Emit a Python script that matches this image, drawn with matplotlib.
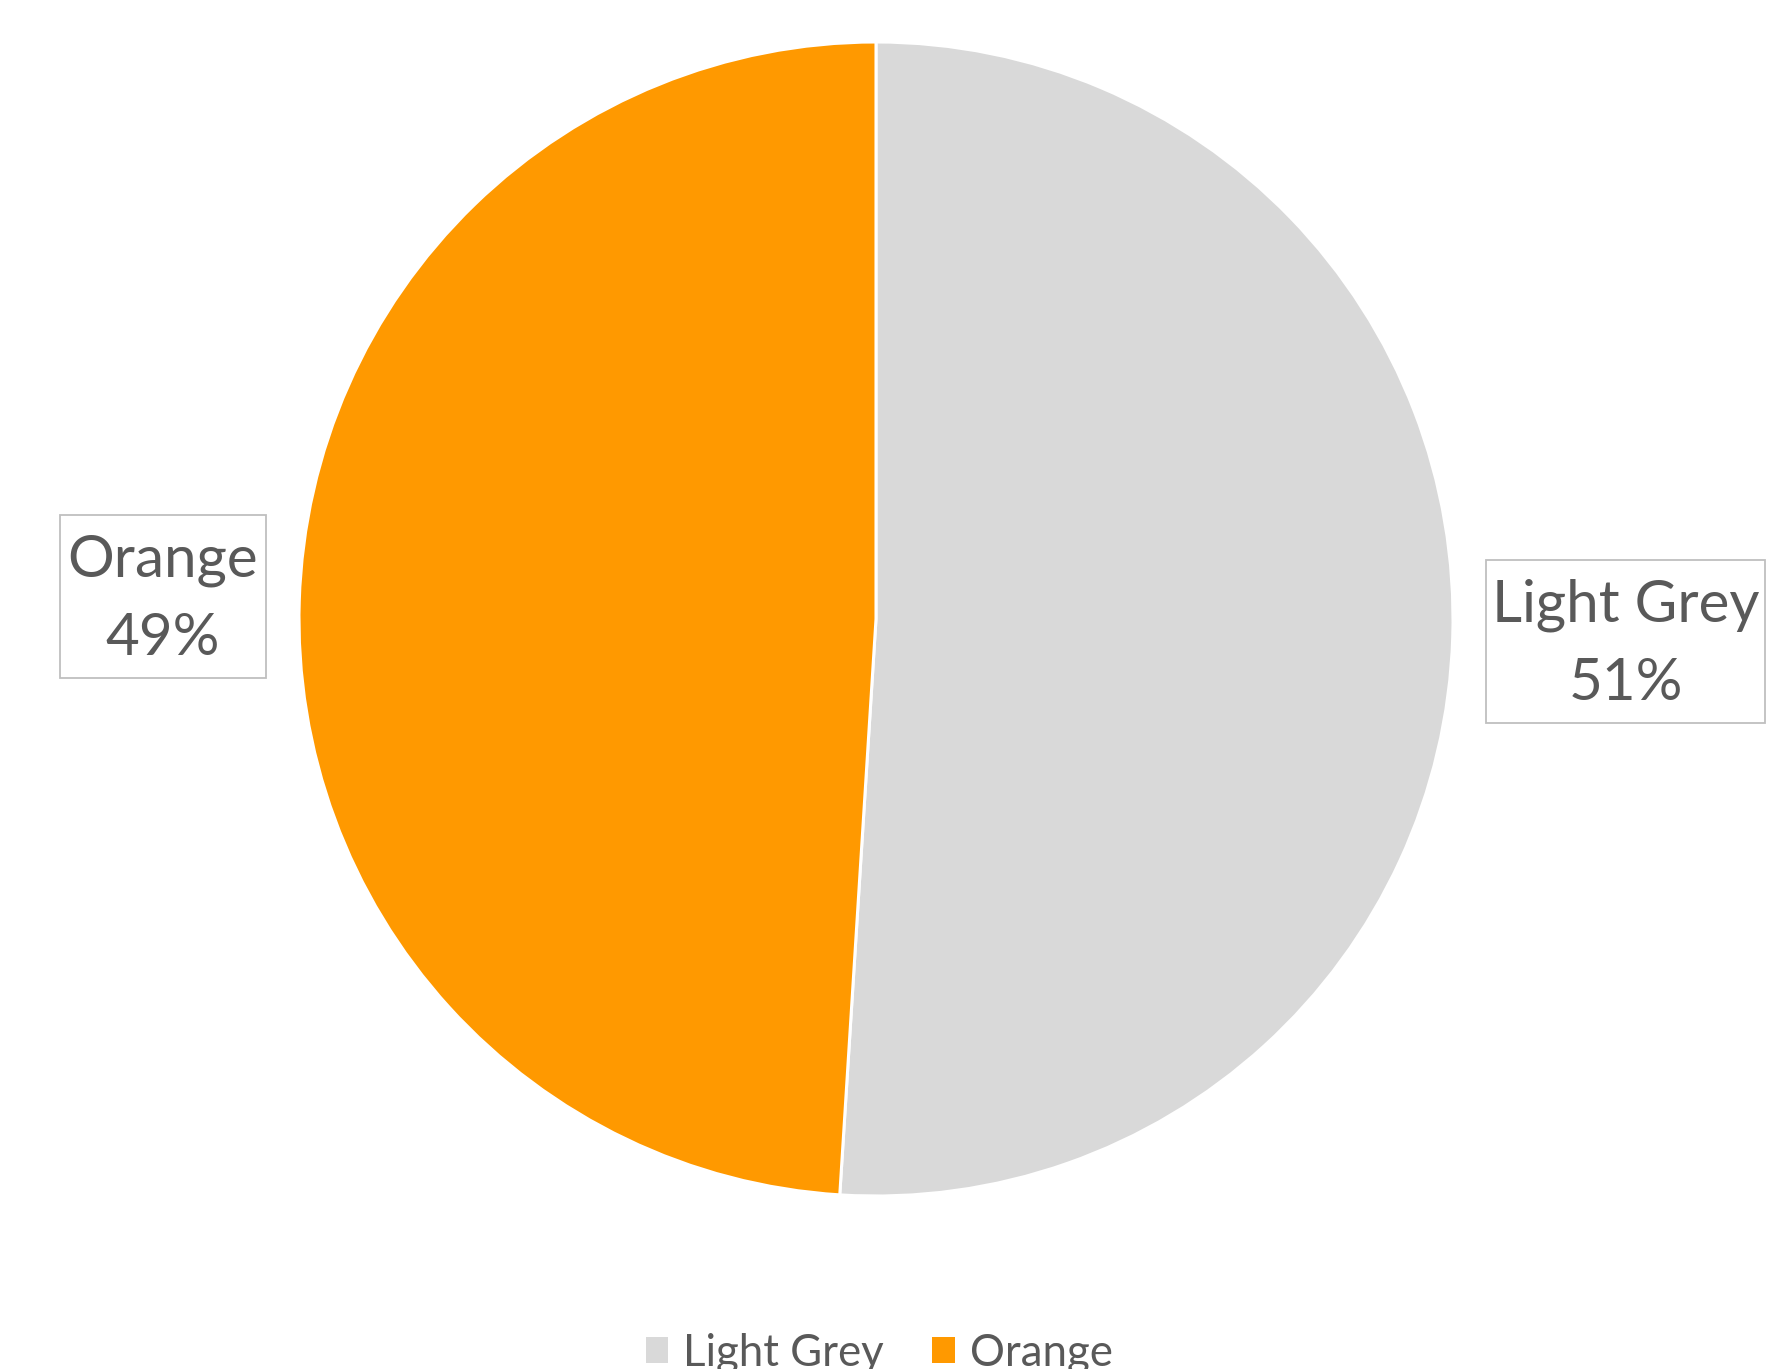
import matplotlib.pyplot as plt
from matplotlib.patches import Rectangle, Patch

# -------------------- data -------------------- #
categories = ['Light Grey', 'Orange']
shares = [51, 49]
colors = ['#D9D9D9', '#FF9900']

text_color = '#595959'
plt.rcParams['font.family'] = ['Lato', 'DejaVu Sans']

# -------------------- figure (1 data unit = 1 pixel) -------------------- #
W, H = 1767, 1369
fig = plt.figure(figsize=(W / 100, H / 100), dpi=100)
ax = fig.add_axes([0, 0, 1, 1])

cx, cy, r = 876, H - 619, 577
ax.pie(shares, colors=colors, startangle=90, counterclock=False,
       center=(cx, cy), radius=r,
       wedgeprops=dict(edgecolor='white', linewidth=2.2))

ax.set_xlim(0, W)
ax.set_ylim(0, H)
ax.axis('off')

# data label boxes: (x0, y0_top, width, height) in image pixels
boxes = {'Light Grey': (1486, 560, 279, 163), 'Orange': (60, 515, 206, 163)}
for name, val in zip(categories, shares):
    x0, y0, w, h = boxes[name]
    ax.add_patch(Rectangle((x0, H - y0 - h), w, h, facecolor='white',
                           edgecolor='#BFBFBF', linewidth=1.3, zorder=3))
    xc = x0 + w / 2
    yc = H - (y0 + h / 2)
    ax.text(xc, yc + 36, name, ha='center', va='center', fontsize=42,
            color=text_color, zorder=4)
    ax.text(xc, yc - 42, f'{val}%', ha='center', va='center', fontsize=42,
            color=text_color, zorder=4)

# legend at the bottom (partly cut off, as in the original)
handles = [Patch(facecolor=c, edgecolor='none') for c in colors]
ax.legend(handles, categories, loc='center', bbox_to_anchor=(879 / W, 16 / H),
          ncol=2, frameon=False, fontsize=31.5, labelcolor=text_color,
          handlelength=0.52, handleheight=0.52, handletextpad=0.34,
          columnspacing=1.1)

fig.savefig('out.png', dpi=100)
